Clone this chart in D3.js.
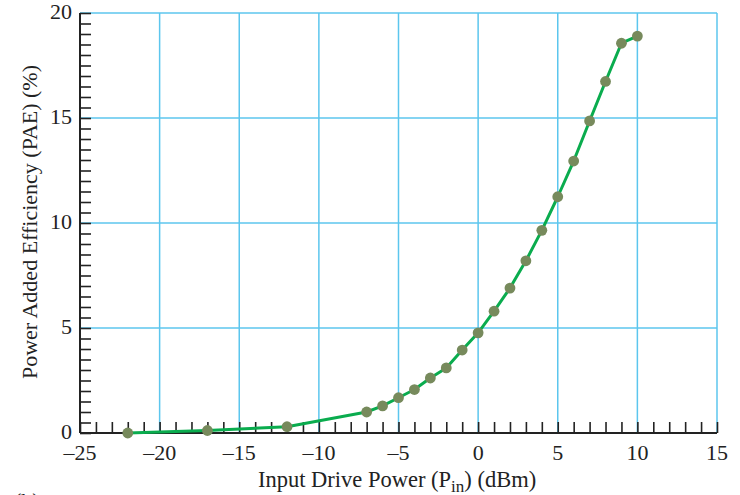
<!DOCTYPE html>
<html><head><meta charset="utf-8">
<script src="https://cdn.jsdelivr.net/npm/d3@7"></script>
<style>body{margin:0;background:#fff}svg{display:block}text{font-family:"Liberation Serif","Times New Roman",serif;fill:#222}</style>
</head><body><svg id="c" width="740" height="495"></svg>
<script>
const pinValues = [-22,-17,-12,-7,-6,-5,-4,-3,-2,-1,0,1,2,3,4,5,6,7,8,9,10];
const paeValues = [0.0,0.12,0.3,1.0,1.29,1.68,2.07,2.62,3.1,3.95,4.77,5.8,6.9,8.2,9.65,11.25,12.95,14.86,16.74,18.56,18.9];
const xTickValues = [-25,-20,-15,-10,-5,0,5,10,15];
const yTickValues = [0,5,10,15,20];
const xTitle = "Input Drive Power (P";
const yTitle = "Power Added Efficiency (PAE) (%)";

const svg = d3.select("#c");
const L=80,R=717,T=13,B=433;
const x = d3.scaleLinear().domain([-25,15]).range([L,R]);
const y = d3.scaleLinear().domain([0,20]).range([B,T]);
const grid="#5cc6ee";
const fmt = v => v<0 ? "\u2013"+Math.abs(v) : String(v);

// grid
svg.append("g").selectAll("line").data(xTickValues.filter(v=>v>-25)).join("line")
  .attr("x1",d=>x(d)).attr("x2",d=>x(d)).attr("y1",T).attr("y2",B)
  .attr("stroke",grid).attr("stroke-width",1.5);
svg.append("g").selectAll("line").data(yTickValues.filter(v=>v>0)).join("line")
  .attr("x1",L).attr("x2",R).attr("y1",d=>y(d)).attr("y2",d=>y(d))
  .attr("stroke",grid).attr("stroke-width",1.5);

// axes
const xAxis = d3.axisBottom(x).tickValues(d3.range(-25,16,1)).tickSize(-11).tickFormat("");
const gx = svg.append("g").attr("transform",`translate(0,${B})`).call(xAxis);
const yAxis = d3.axisLeft(y).tickValues(d3.range(0,20.01,0.5)).tickSize(-11).tickFormat("");
const gy = svg.append("g").attr("transform",`translate(${L},0)`).call(yAxis);
[gx,gy].forEach(g=>{g.select(".domain").attr("stroke","#222").attr("stroke-width",2);
  g.selectAll(".tick line").attr("stroke","#222").attr("stroke-width",1.6);});
gx.select(".domain").attr("d",`M${L},0H${R}`);
gy.select(".domain").attr("d",`M0,${T}V${B}`);

// tick labels
svg.append("g").selectAll("text").data(xTickValues).join("text")
  .attr("x",d=>x(d)).attr("y",460).attr("text-anchor","middle")
  .attr("font-size",22).text(fmt);
svg.append("g").selectAll("text").data(yTickValues).join("text")
  .attr("x",72).attr("y",d=>y(d)+6).attr("text-anchor","end")
  .attr("font-size",22).text(fmt);

// titles
const xt = svg.append("text").attr("x",258).attr("y",487).attr("font-size",22.5);
xt.append("tspan").text(xTitle);
xt.append("tspan").attr("dy",5).attr("font-size",17).text("in");
xt.append("tspan").attr("dy",-5).text(") (dBm)");
svg.append("text").attr("transform","translate(37,222) rotate(-90)")
  .attr("text-anchor","middle").attr("font-size",22).text(yTitle);
svg.append("text").attr("x",14).attr("y",508).attr("font-size",22).text("(b)");

// data
const pts = pinValues.map((v,i)=>[v,paeValues[i]]);
svg.append("path").datum(pts)
  .attr("d",d3.line().x(d=>x(d[0])).y(d=>y(d[1])))
  .attr("fill","none").attr("stroke","#0aac4e").attr("stroke-width",3).attr("stroke-linejoin","round");
svg.append("g").selectAll("circle").data(pts).join("circle")
  .attr("cx",d=>x(d[0])).attr("cy",d=>y(d[1])).attr("r",5.4)
  .attr("fill","#778a5c");
</script></body></html>
